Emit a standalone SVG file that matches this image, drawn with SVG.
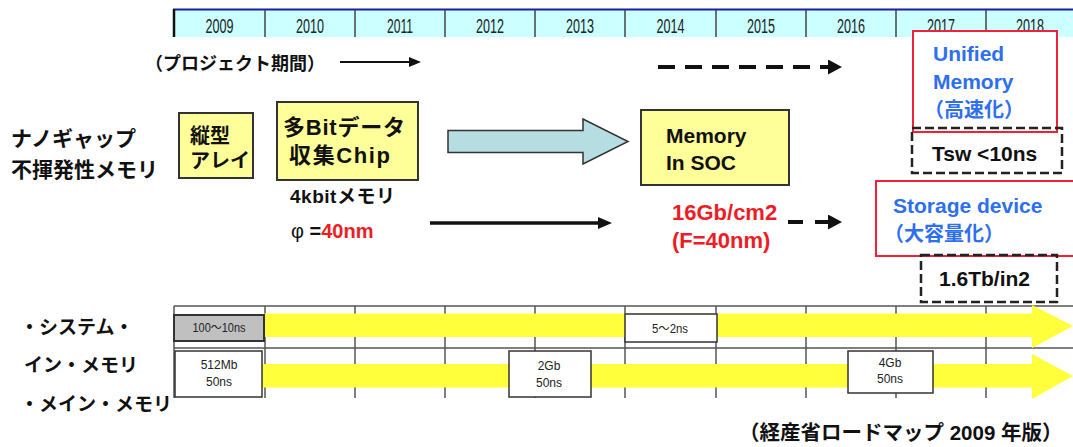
<svg xmlns="http://www.w3.org/2000/svg" width="1073" height="447" viewBox="0 0 1073 447">
<style>
  .jp { font-family: "Liberation Sans", "Noto Sans CJK JP", sans-serif; font-weight: bold; fill: #111; }
  .yr { font-family: "Liberation Sans", sans-serif; font-size: 20px; fill: #222; text-anchor: middle; }
  .sm { font-family: "Liberation Sans", "Noto Sans CJK JP", sans-serif; font-size: 12px; fill: #222; text-anchor: middle; }
  .blue { fill: #2e6ff0; }
  .red { fill: #ee1c25; }
  .ybox { fill: #ffff99; stroke: #333; stroke-width: 2; }
  .rbox { fill: #fff; stroke: #f0203a; stroke-width: 2; }
  .dbox { fill: none; stroke: #222; stroke-width: 2.5; stroke-dasharray: 9 4; }
  .wbox { fill: #fff; stroke: #333; stroke-width: 1.5; }
  .grid { stroke: #555; stroke-width: 1.5; fill: none; }
  .div { stroke: #444; stroke-width: 1.5; }
  .band { fill: #ffff3c; }
</style>
<defs>
  <marker id="hA" markerUnits="userSpaceOnUse" markerWidth="12" markerHeight="10" refX="6" refY="5" orient="auto">
    <path d="M0,0 L12,5 L0,10 z" fill="#111"/>
  </marker>
  <marker id="hB" markerUnits="userSpaceOnUse" markerWidth="14" markerHeight="15" refX="2" refY="7.5" orient="auto">
    <path d="M0,0 L14,7.5 L0,15 z" fill="#111"/>
  </marker>
  <marker id="hC" markerUnits="userSpaceOnUse" markerWidth="14" markerHeight="12" refX="2" refY="6" orient="auto">
    <path d="M0,0 L14,6 L0,12 z" fill="#111"/>
  </marker>
</defs>

<g id="timeline-header">
  <rect x="174" y="10" width="899" height="27" fill="#ccffff"/>
  <line x1="173" y1="9.5" x2="1073" y2="9.5" stroke="#1c1ca8" stroke-width="2"/>
  <line x1="174" y1="9" x2="174" y2="37" stroke="#111" stroke-width="2.5"/>
  <line class="div" x1="265" y1="10" x2="265" y2="37"/>
  <line class="div" x1="355" y1="10" x2="355" y2="37"/>
  <line class="div" x1="445" y1="10" x2="445" y2="37"/>
  <line class="div" x1="535" y1="10" x2="535" y2="37"/>
  <line class="div" x1="625" y1="10" x2="625" y2="37"/>
  <line class="div" x1="716" y1="10" x2="716" y2="37"/>
  <line class="div" x1="806" y1="10" x2="806" y2="37"/>
  <line class="div" x1="896" y1="10" x2="896" y2="37"/>
  <line class="div" x1="986" y1="10" x2="986" y2="37"/>
  <text class="yr" x="219.5" y="33" textLength="28" lengthAdjust="spacingAndGlyphs">2009</text>
  <text class="yr" x="310" y="33" textLength="28" lengthAdjust="spacingAndGlyphs">2010</text>
  <text class="yr" x="400" y="33" textLength="26" lengthAdjust="spacingAndGlyphs">2011</text>
  <text class="yr" x="490" y="33" textLength="28" lengthAdjust="spacingAndGlyphs">2012</text>
  <text class="yr" x="580" y="33" textLength="28" lengthAdjust="spacingAndGlyphs">2013</text>
  <text class="yr" x="670.5" y="33" textLength="28" lengthAdjust="spacingAndGlyphs">2014</text>
  <text class="yr" x="761" y="33" textLength="28" lengthAdjust="spacingAndGlyphs">2015</text>
  <text class="yr" x="851" y="33" textLength="28" lengthAdjust="spacingAndGlyphs">2016</text>
  <text class="yr" x="941" y="33" textLength="28" lengthAdjust="spacingAndGlyphs">2017</text>
  <text class="yr" x="1030" y="33" textLength="28" lengthAdjust="spacingAndGlyphs">2018</text>
</g>

<g id="project-period">
  <text class="jp" x="145" y="70" font-size="18">（プロジェクト期間）</text>
</g>

<g id="row-label">
  <text class="jp" x="11" y="146" font-size="21">ナノギャップ</text>
  <text class="jp" x="11" y="177" font-size="21">不揮発性メモリ</text>
</g>

<g id="node-vertical-array">
  <rect class="ybox" x="179" y="113" width="74" height="65"/>
  <text class="jp" x="190" y="143" font-size="20">縦型</text>
  <text class="jp" x="190" y="168" font-size="20">アレイ</text>
</g>

<g id="node-multibit-chip">
  <rect class="ybox" x="277" y="102" width="141" height="78"/>
  <text class="jp" x="283" y="135" font-size="22" textLength="122">多Bitデータ</text>
  <text class="jp" x="289" y="163" font-size="22" textLength="101">収集Chip</text>
  <text class="jp" x="290" y="203" font-size="19" textLength="105">4kbitメモリ</text>
  <text class="jp" x="291" y="238" font-size="20"><tspan font-weight="normal">φ</tspan> =<tspan class="red">40nm</tspan></text>
</g>

<g id="node-memory-soc">
  <rect class="ybox" x="641" y="110" width="148" height="75"/>
  <text class="jp" x="666" y="143" font-size="21">Memory</text>
  <text class="jp" x="666" y="170" font-size="21">In SOC</text>
</g>

<g id="node-density">
  <text class="jp red" x="672" y="220" font-size="22">16Gb/cm2</text>
  <text class="jp red" x="672" y="248" font-size="22">(F=40nm)</text>
</g>

<g id="node-unified-memory">
  <rect class="rbox" x="913" y="31" width="144" height="101"/>
  <text class="jp blue" x="933" y="61" font-size="21">Unified</text>
  <text class="jp blue" x="933" y="89" font-size="21">Memory</text>
  <text class="jp blue" x="924" y="117" font-size="20">（高速化）</text>
</g>

<g id="node-tsw">
  <rect class="dbox" x="912" y="128" width="150" height="45"/>
  <text class="jp" x="932" y="161" font-size="21">Tsw &lt;10ns</text>
</g>

<g id="node-storage">
  <rect class="rbox" x="876" y="181" width="205" height="75"/>
  <text class="jp blue" x="893" y="213" font-size="21">Storage device</text>
  <text class="jp blue" x="884" y="241" font-size="20">（大容量化）</text>
</g>

<g id="node-density-target">
  <rect class="dbox" x="921" y="255" width="136" height="47"/>
  <text class="jp" x="939" y="286" font-size="21">1.6Tb/in2</text>
</g>

<g id="connectors">
  <line x1="340" y1="62" x2="415" y2="62" stroke="#111" stroke-width="2" marker-end="url(#hA)"/>
  <line x1="658" y1="67" x2="830" y2="67" stroke="#111" stroke-width="4" stroke-dasharray="17 10" marker-end="url(#hB)"/>
  <polygon points="448,130.5 583,130.5 583,119 628,141.5 583,164 583,152.5 448,152.5" fill="#b6dde1" stroke="#333" stroke-width="1.5"/>
  <line x1="430" y1="223" x2="600" y2="223" stroke="#111" stroke-width="3.5" marker-end="url(#hC)"/>
  <line x1="788" y1="222" x2="830" y2="222" stroke="#111" stroke-width="4" stroke-dasharray="15 12" marker-end="url(#hB)"/>
</g>

<g id="roadmap-grid">
  <line class="grid" x1="174" y1="306" x2="1073" y2="306"/>
  <line class="grid" x1="174" y1="348" x2="1073" y2="348"/>
  <line class="grid" x1="174" y1="306" x2="174" y2="398"/>
  <line class="grid" x1="265" y1="306" x2="265" y2="398"/>
  <line class="grid" x1="355" y1="306" x2="355" y2="398"/>
  <line class="grid" x1="445" y1="306" x2="445" y2="398"/>
  <line class="grid" x1="535" y1="306" x2="535" y2="398"/>
  <line class="grid" x1="625" y1="306" x2="625" y2="398"/>
  <line class="grid" x1="716" y1="306" x2="716" y2="398"/>
  <line class="grid" x1="806" y1="306" x2="806" y2="398"/>
  <line class="grid" x1="896" y1="306" x2="896" y2="398"/>
  <line class="grid" x1="986" y1="306" x2="986" y2="398"/>
</g>

<g id="row-system-memory">
  <text class="jp" x="20" y="334" font-size="19">・システム・</text>
  <text class="jp" x="24" y="372" font-size="19">イン・メモリ</text>
  <polygon class="band" points="264,313.5 1032,313.5 1032,305 1073,326 1032,348 1032,337 264,337"/>
  <rect x="174" y="315" width="90" height="26" fill="#c0c0c0" stroke="#333" stroke-width="2"/>
  <text class="sm" x="219" y="332" textLength="53" lengthAdjust="spacingAndGlyphs">100～10ns</text>
  <rect class="wbox" x="625" y="314" width="92" height="28"/>
  <text class="sm" x="670" y="333" textLength="36" lengthAdjust="spacingAndGlyphs">5～2ns</text>
</g>

<g id="row-main-memory">
  <text class="jp" x="20" y="411" font-size="19">・メイン・メモリ</text>
  <polygon class="band" points="262,364 1032,364 1032,354 1073,376 1032,399 1032,387.5 262,387.5"/>
  <rect class="wbox" x="175" y="351" width="87" height="46"/>
  <text class="sm" x="219" y="369">512Mb</text>
  <text class="sm" x="219" y="386">50ns</text>
  <rect class="wbox" x="509" y="351" width="82" height="46"/>
  <text class="sm" x="549" y="370">2Gb</text>
  <text class="sm" x="549" y="387">50ns</text>
  <rect class="wbox" x="848" y="351" width="85" height="42"/>
  <text class="sm" x="890" y="367">4Gb</text>
  <text class="sm" x="890" y="383">50ns</text>
</g>

<g id="source-note">
  <text class="jp" x="739" y="440" font-size="20.5">（経産省ロードマップ 2009 年版）</text>
</g>
</svg>
